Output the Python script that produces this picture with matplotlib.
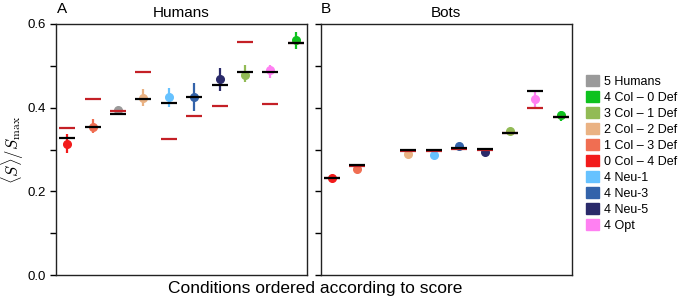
import matplotlib
matplotlib.use("Agg")
import matplotlib.pyplot as plt
import matplotlib.patches as mpatches
import numpy as np

plt.rcParams['font.family'] = ['Liberation Sans', 'DejaVu Sans']
plt.rcParams['mathtext.fontset'] = 'cm'

# ---- data ----
legend_labels = ["5 Humans", "4 Col – 0 Def", "3 Col – 1 Def", "2 Col – 2 Def",
                 "1 Col – 3 Def", "0 Col – 4 Def", "4 Neu-1", "4 Neu-3", "4 Neu-5", "4 Opt"]
legend_colors = ["#9a9a9a", "#0ec21e", "#92bb55", "#eab283", "#f06e52",
                 "#f21b1b", "#66c2ff", "#3363aa", "#2a2a6a", "#ff80f2"]

# plotting order (by score)
order_labels = ["0 Col – 4 Def", "1 Col – 3 Def", "5 Humans", "2 Col – 2 Def", "4 Neu-1",
                "4 Neu-3", "4 Neu-5", "3 Col – 1 Def", "4 Opt", "4 Col – 0 Def"]

# Humans panel
hum_mean = [0.313, 0.354, 0.394, 0.424, 0.425, 0.426, 0.469, 0.479, 0.490, 0.561]
hum_lo   = [0.292, 0.340, 0.389, 0.404, 0.402, 0.392, 0.440, 0.461, 0.471, 0.541]
hum_hi   = [0.337, 0.373, 0.398, 0.444, 0.446, 0.459, 0.496, 0.501, 0.503, 0.580]
hum_black = [0.327, 0.353, 0.386, 0.421, 0.411, 0.425, 0.453, 0.486, 0.485, 0.554]
hum_red   = [0.352, 0.421, 0.393, 0.486, 0.325, 0.379, 0.403, 0.556, 0.409, 0.554]

# Bots panel (no human condition: None)
bot_mean  = [0.2325, 0.2525, None, 0.289, 0.286, 0.3075, 0.2947, 0.344, 0.420, 0.382]
bot_lo    = [0.229, 0.249, None, 0.286, 0.283, 0.304, 0.291, 0.340, 0.400, 0.369]
bot_hi    = [0.236, 0.256, None, 0.292, 0.289, 0.311, 0.298, 0.348, 0.440, 0.393]
bot_black = [0.233, 0.263, None, 0.2995, 0.298, 0.304, 0.301, 0.340, 0.440, 0.378]
bot_red   = [0.233, 0.260, None, 0.297, 0.2955, 0.302, 0.299, 0.3385, 0.400, 0.378]

color_of = dict(zip(legend_labels, legend_colors))

fig = plt.figure(figsize=(6.85, 3.03), dpi=100)
axA = fig.add_axes([56/685, 28/303, 251/685, 251/303])
axB = fig.add_axes([320.7/685, 28/303, 251.3/685, 251/303])

def draw(ax, mean, lo, hi, black, red):
    for i, lab in enumerate(order_labels):
        if mean[i] is None:
            continue
        c = color_of[lab]
        ax.errorbar(i, mean[i], yerr=[[mean[i]-lo[i]], [hi[i]-mean[i]]], fmt='o',
                    color=c, ms=5.5, elinewidth=1.6, capsize=0, zorder=3)
        ax.plot(i, red[i], marker='_', color='#c42026', ms=12, mew=1.6, zorder=4, ls='none')
        ax.plot(i, black[i], marker='_', color='black', ms=12, mew=1.6, zorder=5, ls='none')

draw(axA, hum_mean, hum_lo, hum_hi, hum_black, hum_red)
draw(axB, bot_mean, bot_lo, bot_hi, bot_black, bot_red)

for ax in (axA, axB):
    ax.set_xlim(-0.44, 9.44)
    ax.set_ylim(0, 0.6)
    ax.set_xticks([])
    ax.set_yticks([0.0, 0.1, 0.2, 0.3, 0.4, 0.5, 0.6])
    ax.tick_params(axis='y', direction='out', length=4, width=1, labelsize=9.5)
    for s in ax.spines.values():
        s.set_linewidth(1.0)
        s.set_color('#222222')

axA.set_yticklabels(["0.0", "", "0.2", "", "0.4", "", "0.6"])
axB.set_yticklabels([])

axA.set_title("Humans", fontsize=11, pad=5)
axB.set_title("Bots", fontsize=11, pad=5)
fig.text(57/685, 1 - 9/303, "A", fontsize=11, va='center', ha='left')
fig.text(321/685, 1 - 9/303, "B", fontsize=11, va='center', ha='left')

fig.text(13/685, 1 - 150/303, r"$\langle S\rangle/S_{\max}$", fontsize=12,
         rotation=90, ha='center', va='center')
fig.text(315/685, 1 - 289/303, "Conditions ordered according to score",
         fontsize=12.5, ha='center', va='center')

handles = [mpatches.Patch(color=c, label=l) for l, c in zip(legend_labels, legend_colors)]
fig.legend(handles=handles, loc='upper left', bbox_to_anchor=(581/685, 1 - 70/303),
           frameon=False, fontsize=9, handlelength=1.0, handleheight=1.0,
           handletextpad=0.4, labelspacing=0.25, borderaxespad=0)

fig.savefig("out.png", dpi=100)
